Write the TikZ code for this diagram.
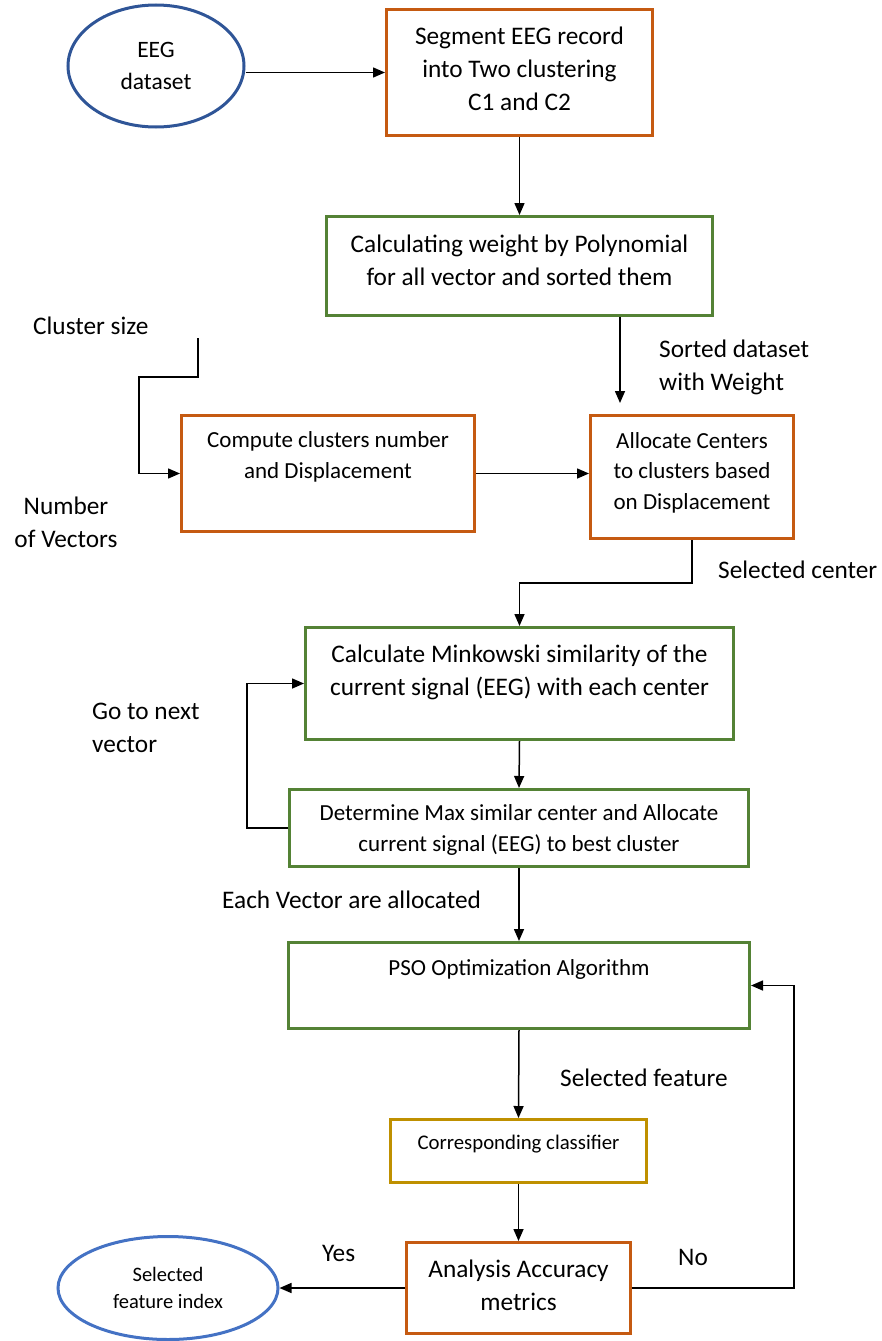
\documentclass[tikz,border=0pt]{standalone}
\usepackage{fontspec}
\setmainfont{Carlito}
\usetikzlibrary{shapes.geometric,arrows.meta}
\definecolor{boxorange}{HTML}{C55A11}
\definecolor{boxgreen}{HTML}{548235}
\definecolor{boxgold}{HTML}{BF9000}
\definecolor{ovaldark}{HTML}{2F5597}
\definecolor{ovallight}{HTML}{4472C4}
\newcommand{\fsbig}{\fontsize{25.3pt}{33pt}\selectfont}
\newcommand{\fsmid}{\fontsize{23pt}{30.5pt}\selectfont}
\newcommand{\fscls}{\fontsize{20.8pt}{26pt}\selectfont}
\newcommand{\fsdata}{\fontsize{23.5pt}{32pt}\selectfont}
\newcommand{\fsoval}{\fontsize{20.5pt}{27pt}\selectfont}
\tikzset{
	proc/.style={draw, line width=3pt, inner sep=0pt, align=center, anchor=north west, font=\fsbig},
	oval/.style={draw, ellipse, line width=3pt, inner sep=0pt, align=center},
	note/.style={anchor=west, inner sep=0pt, align=left, font=\fsbig},
	arr/.style={-{Triangle[length=12pt,width=10pt]}, line width=1.5pt}
}
\begin{document}
\begin{tikzpicture}[x=1pt,y=-1pt]
	\useasboundingbox (0,0) rectangle (882,1341);
	\node[oval, draw=ovaldark, minimum width=176pt, minimum height=122pt, font=\fsdata] (eeg) at (156,66) {EEG\\dataset};
	\node[proc, draw=boxorange, minimum width=266pt, text height=100.6pt, text depth=25.4pt] (seg) at (385,8) {Segment EEG record\\into Two clustering\\C1 and C2};
	\node[proc, draw=boxgreen, minimum width=386pt, text height=68.6pt, text depth=30.4pt] (calc) at (325,215) {Calculating weight by Polynomial\\for all vector and sorted them};
	\node[proc, draw=boxorange, minimum width=293pt, text height=62.9pt, text depth=53.1pt, font=\fsmid] (comp) at (180,414) {Compute clusters number\\and Displacement};
	\node[proc, draw=boxorange, minimum width=203pt, text height=93.9pt, text depth=29.1pt, font=\fsmid] (alloc) at (589,414) {Allocate Centers\\to clusters based\\on Displacement};
	\node[proc, draw=boxgreen, minimum width=428pt, text height=67.6pt, text depth=44.4pt] (mink) at (304,626) {Calculate Minkowski similarity of the\\current signal (EEG) with each center};
	\node[proc, draw=boxgreen, minimum width=459pt, text height=61.9pt, text depth=15.1pt, font=\fsmid] (det) at (288,788) {Determine Max similar center and Allocate\\current signal (EEG) to best cluster};
	\node[proc, draw=boxgreen, minimum width=461pt, text height=32.9pt, text depth=53.1pt, font=\fsmid] (pso) at (287,941) {PSO Optimization Algorithm};
	\node[proc, draw=boxgold, minimum width=256pt, text height=30.2pt, text depth=32.8pt, font=\fscls] (corr) at (389,1118) {Corresponding classifier};
	\node[proc, draw=boxorange, minimum width=224pt, text height=67.6pt, text depth=23.4pt] (acc) at (405,1241) {Analysis Accuracy\\metrics};
	\node[oval, draw=ovallight, minimum width=220pt, minimum height=103pt, font=\fsoval] (sel) at (168,1288) {Selected\\feature index};

	% testi liberi
	\node[note] (csize) at (33,326) {Cluster size};
	\node[note] (sorted) at (659,367) {Sorted dataset\\with Weight};
	\node[note, anchor=center, align=center] (nvec) at (66,522) {Number\\of Vectors};
	\node[note] (selc) at (718,570) {Selected center};
	\node[note] (gonext) at (92,728) {Go to next\\vector};
	\node[note] (eachv) at (222,900) {Each Vector are allocated};
	\node[note] (self) at (560,1078) {Selected feature};
	\node[note] (yes) at (322,1253) {Yes};
	\node[note] (no) at (678,1257) {No};

	\coordinate (cstop) at (198,338);
	\coordinate (sortin) at (620,403);

	\draw[arr] (eeg.east |- seg.west) -- (seg.west);
	\draw[arr] (seg.south) -- (calc.north);
	\draw[arr] (calc.south -| sortin) -- (sortin); % non tocca il box
	\draw[arr] (cstop) |- (139,377) |- (comp.west);
	\draw[arr] (comp.east) -- (comp.east -| alloc.west);
	\draw[arr] (alloc.south) -- ++(0,43) -| (mink.north);
	\draw[arr] (mink.south) -- (det.north);
	\draw[arr] (det.west) -- ++(-41,0) |- (mink.west); % ciclo
	\draw[arr] (det.south) -- (pso.north);
	\draw[arr] (pso.south) -- (corr.north);
	\draw[arr] (corr.south) -- (acc.north);
	\draw[arr] (acc.west) -- (sel.east);
	\draw[arr] (acc.east) -- ++(162,0) |- (pso.east); % ritorno
\end{tikzpicture}
\end{document}
